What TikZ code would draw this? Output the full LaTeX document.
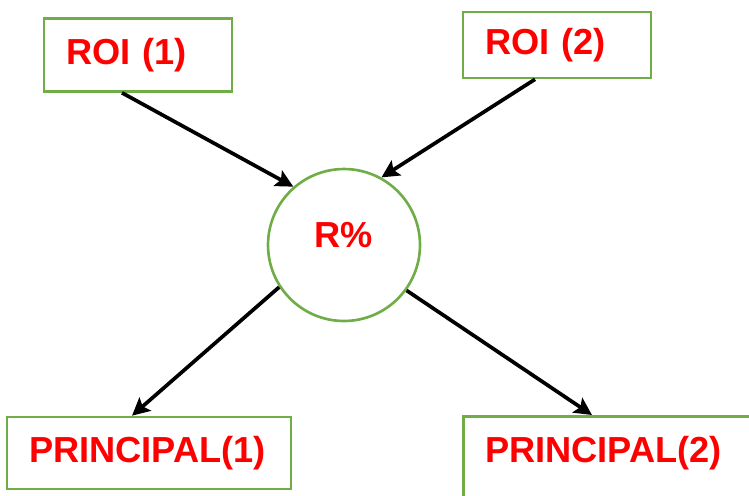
\documentclass[tikz,border=0pt]{standalone}
\usepackage{fontspec}
\setmainfont{Liberation Sans}
\usepackage{tikz}
\usetikzlibrary{arrows.meta, calc}
\definecolor{boxgreen}{HTML}{70AD47}
\definecolor{labelred}{HTML}{FF0000}

\begin{document}
\begin{tikzpicture}[x=0.02cm, y=-0.02cm, font=\fontsize{20.6}{24}\selectfont\bfseries,
  >={Stealth[length=10pt, width=10pt, inset=2pt]},
  box/.style={draw=boxgreen, line width=1.5pt, text=labelred, align=left, inner xsep=0.44cm},
  ring/.style={circle, draw=boxgreen, line width=1.5pt, text=labelred, minimum size=3.04cm, text depth=0.42cm},
  link/.style={->, line width=2.1pt}]
  \useasboundingbox (0,0) rectangle (749,495);
  \clip (0,0) rectangle (749,495);
  % Uzly
  \node[box, text width=2.88cm, minimum height=1.46cm] (roi1) at (138,55) {ROI (1)};
  \node[box, text width=2.88cm, minimum height=1.32cm] (roi2) at (557,45) {ROI (2)};
  \node[ring] (r) at (344,245) {R\%};
  \node[box, text width=4.8cm, minimum height=1.44cm] (p1) at (149,453) {PRINCIPAL(1)};
  \node[box, text width=5.6cm, anchor=north west, inner ysep=0.4cm, text depth=2cm] (p2) at (462,415) {PRINCIPAL(2)};
  % Sipky
  \draw[link] ($(roi1.south)+(-16,0)$) -- (r.131);
  \draw[link] ($(roi2.south)+(-22,0)$) -- (r.61);
  \draw[link] (r.213) -- ($(p1.north)+(-17,0)$);
  \draw[link] (r.324) -- ($(p2.north west)+(130,0)$);
\end{tikzpicture}
\end{document}
